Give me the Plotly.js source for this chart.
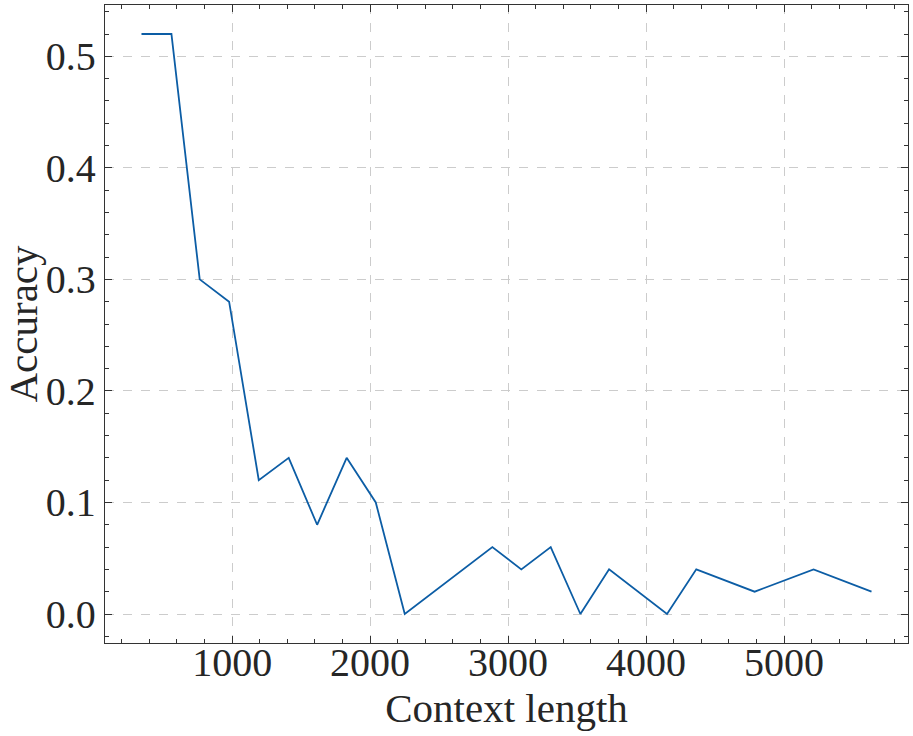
<!DOCTYPE html>
<html>
<head>
<meta charset="utf-8">
<script src="https://cdn.plot.ly/plotly-3.0.1.min.js"></script>
<style>html,body{margin:0;padding:0;background:#fff;}#chart{width:913px;height:736px;}</style>
</head>
<body>
<div id="chart"></div>
<script>
const contextLength = [343, 560, 765, 978, 1193, 1410, 1616, 1830, 2041, 2251, 2886, 3096, 3309, 3524, 3732, 4152, 4364, 4787, 5214, 5634];
const accuracy = [0.52, 0.52, 0.30, 0.28, 0.12, 0.14, 0.08, 0.14, 0.10, 0.00, 0.06, 0.04, 0.06, 0.00, 0.04, 0.00, 0.04, 0.02, 0.04, 0.02];
const xTitle = "Context length";
const yTitle = "Accuracy";

const fontFam = '"Liberation Serif", "DejaVu Serif", serif';
const textColor = '#262626';

const trace = {
  x: contextLength,
  y: accuracy,
  type: 'scatter',
  mode: 'lines',
  line: {color: '#0C5DA5', width: 1.8},
  hoverinfo: 'x+y'
};

const axisCommon = {
  showline: true, mirror: 'allticks', linecolor: '#333', linewidth: 1.2,
  ticks: 'inside', ticklen: 7, tickwidth: 1, tickcolor: '#333',
  showgrid: true, gridcolor: '#cccccc', gridwidth: 1, griddash: 'dash',
  zeroline: false,
  tickfont: {family: fontFam, size: 40, color: textColor}
};

const layout = {
  width: 913, height: 736,
  margin: {l: 105, r: 5, t: 5, b: 93},
  paper_bgcolor: '#fff', plot_bgcolor: '#fff',
  showlegend: false,
  xaxis: Object.assign({}, axisCommon, {
    range: [78.5, 5898.5], tick0: 0, dtick: 1000,
    ticklabelstandoff: -16,
    minor: {dtick: 200, tick0: 0, ticks: 'inside', ticklen: 4, tickcolor: '#333', showgrid: false},
    title: {text: xTitle, font: {family: fontFam, size: 41, color: textColor}, standoff: 0},
    automargin: false
  }),
  yaxis: Object.assign({}, axisCommon, {
    range: [-0.026, 0.546], tick0: 0, dtick: 0.1, tickformat: '.1f',
    minor: {dtick: 0.02, tick0: 0, ticks: 'inside', ticklen: 4, tickcolor: '#333', showgrid: false},
    title: {text: yTitle, font: {family: fontFam, size: 41, color: textColor}, standoff: 4},
    automargin: false
  })
};

Plotly.newPlot('chart', [trace], layout, {displayModeBar: false, staticPlot: true});
</script>
</body>
</html>
